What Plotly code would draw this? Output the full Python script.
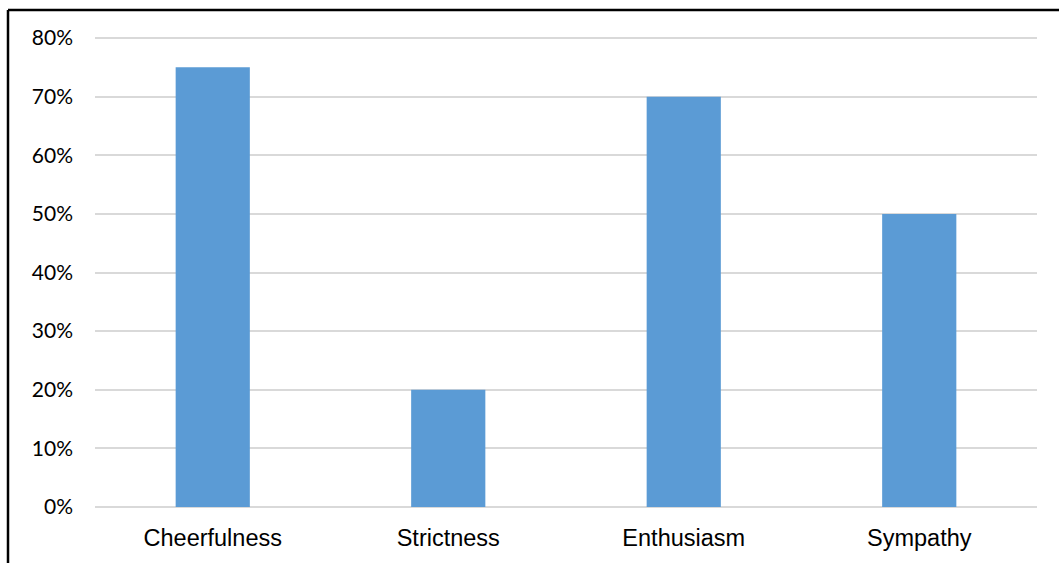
import plotly.graph_objects as go

# Share of respondents naming each trait
categories = ["Cheerfulness", "Strictness", "Enthusiasm", "Sympathy"]
shares = [0.75, 0.20, 0.70, 0.50]
tick_values = [0, 0.1, 0.2, 0.3, 0.4, 0.5, 0.6, 0.7, 0.8]
tick_labels = ["0%", "10%", "20%", "30%", "40%", "50%", "60%", "70%", "80%"]

W, H = 1059, 563
ML, MR, MT, MB = 95, 22, 36, 56
PW, PH = W - ML - MR, H - MT - MB


def px_x(p):
    return (p - ML) / PW


def px_y(p):
    return (H - MB - p) / PH


fig = go.Figure(
    go.Bar(
        x=categories,
        y=shares,
        marker=dict(color="#5B9BD5", line=dict(width=0)),
        width=0.315,
        hoverinfo="x+y",
    )
)

fig.update_layout(
    width=W,
    height=H,
    margin=dict(l=ML, r=MR, t=MT, b=MB),
    paper_bgcolor="white",
    plot_bgcolor="white",
    showlegend=False,
    xaxis=dict(
        showgrid=False,
        showline=False,
        zeroline=False,
        ticks="",
        ticklabelstandoff=14,
        tickfont=dict(family="Liberation Sans, Arial", size=23.5, color="#000000"),
    ),
    yaxis=dict(
        range=[0, 0.8035],
        tickvals=tick_values,
        ticktext=tick_labels,
        showgrid=True,
        gridcolor="#D9D9D9",
        gridwidth=1.5,
        zeroline=True,
        zerolinecolor="#D9D9D9",
        zerolinewidth=1.5,
        showline=False,
        ticks="",
        ticklabelstandoff=21,
        tickfont=dict(family="Lato, Open Sans", size=21, color="#000000"),
    ),
    shapes=[
        # outer frame: top and left edges
        dict(type="line", xref="paper", yref="paper",
             x0=px_x(8), x1=px_x(W + 5), y0=px_y(10), y1=px_y(10),
             line=dict(color="#000000", width=2.5)),
        dict(type="line", xref="paper", yref="paper",
             x0=px_x(8), x1=px_x(8), y0=px_y(10), y1=px_y(H + 5),
             line=dict(color="#000000", width=2.5)),
    ],
)

fig.write_html("out.html")
